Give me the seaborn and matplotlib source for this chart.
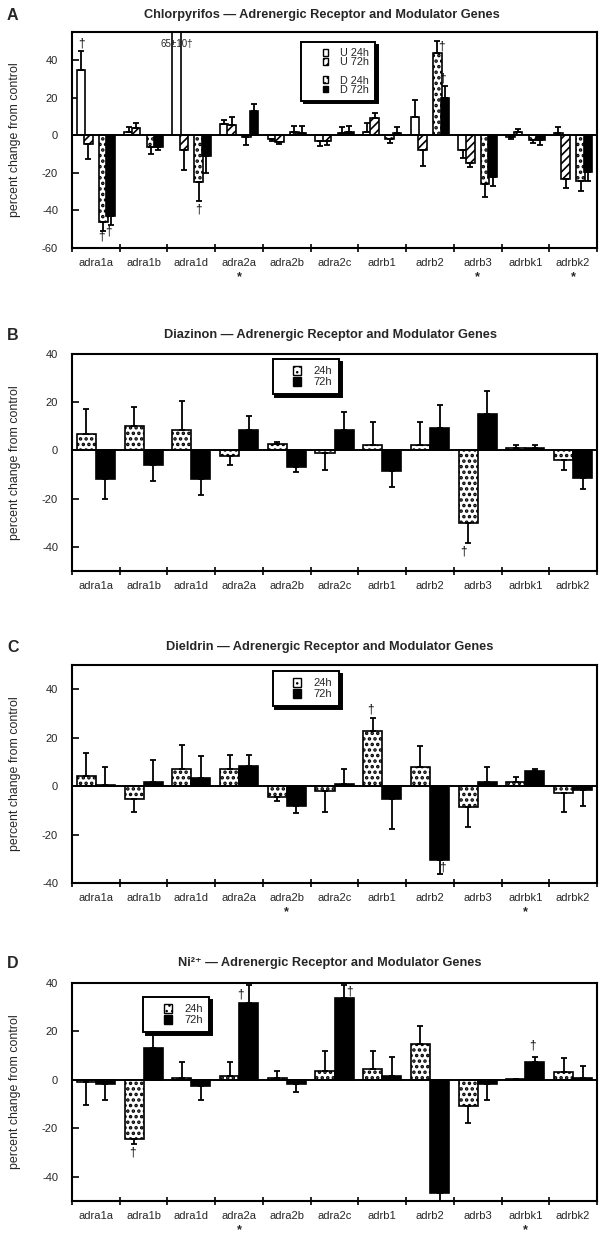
import numpy as np
import pandas as pd
import matplotlib
matplotlib.use("Agg")
import matplotlib.pyplot as plt
import seaborn as sns
from matplotlib.patches import Patch, Rectangle
from matplotlib.legend_handler import HandlerPatch
from matplotlib.transforms import blended_transform_factory

genes = ['adra1a', 'adra1b', 'adra1d', 'adra2a', 'adra2b', 'adra2c',
         'adrb1', 'adrb2', 'adrb3', 'adrbk1', 'adrbk2']

# ---- Panel A: Chlorpyrifos (U = undifferentiated, D = differentiating)
cpf_u24 = [35, 2, 65, 6, -2, -3, 2, 10, -8, -1, 1]
cpf_u24_err = [10, 2.5, 10, 2, 1.2, 2.5, 4.5, 9, 4, 1, 3.5]
cpf_u72 = [-4.5, 4, -8, 5.5, -3.3, -3, 9, -8, -14.5, 1.7, -23]
cpf_u72_err = [8.3, 2.5, 10.4, 4, 1.5, 2.2, 3, 8.3, 2.6, 1.7, 5]
cpf_d24 = [-46, -6, -25, -1, 1.7, 1, -2.2, 44, -25.7, -2.6, -24.5]
cpf_d24_err = [5, 3.8, 9.9, 4.2, 3.4, 3.4, 2.1, 6.2, 6.9, 1.3, 5.2]
cpf_d72 = [-43, -6, -11, 13, 1, 1.7, 1, 20, -22.3, -2.6, -19.4]
cpf_d72_err = [5, 2, 9.2, 3.7, 4.2, 3.4, 3.4, 6, 4.6, 2.5, 4.8]

# ---- Panel B: Diazinon
dzn_24 = [7, 10, 8.5, -2.5, 2.6, -1.1, 2.3, 2.3, -30.1, 1, -3.8]
dzn_24_err = [10.3, 7.9, 11.9, 3.4, 1.1, 7.1, 9.6, 9.6, 8.3, 1.3, 4.4]
dzn_72 = [-12, -6.2, -12, 8.5, -6.8, 8.5, -8.6, 9.2, 15.3, 1, -11.4]
dzn_72_err = [8.3, 6.5, 6.6, 5.7, 2.1, 7.3, 6.4, 9.6, 9.3, 1.3, 4.4]

# ---- Panel C: Dieldrin
dld_24 = [4.2, -5.3, 7.2, 7.2, -4.6, -2.2, 22.9, 7.9, -8.5, 1.7, -2.8]
dld_24_err = [9.5, 5.2, 9.6, 5.8, 1.4, 8.3, 5.1, 8.7, 8.3, 2, 7.7]
dld_72 = [0.3, 1.7, 3.3, 8.2, -8.3, 1, -5.5, -30.5, 1.7, 6.2, -1.5]
dld_72_err = [7.6, 9, 9, 4.8, 2.9, 5.9, 12, 5.7, 6.2, 0.7, 6.8]

# ---- Panel D: Ni2+
ni_24 = [-1, -24.2, 0.7, 1.6, 0.7, 3.8, 4.5, 15, -10.9, 0.3, 3.1]
ni_24_err = [9.5, 2.1, 6.8, 5.9, 3, 8.1, 7.4, 7.3, 7.1, 0, 5.8]
ni_72 = [-1.8, 13, -2.5, 31.7, -1.8, 33.8, 1.6, -46.8, -1.8, 7.5, 0.7]
ni_72_err = [6.7, 7.8, 6, 7.3, 3, 5.2, 8, 6, 6.7, 2.1, 5.2]

# significance marks: (gene, series, y, dx)
daggers_a = [('adra1a', 'U 24h', 49, 0), ('adra1a', 'D 24h', -54, -0.03),
             ('adra1a', 'D 72h', -51, -0.05), ('adra1d', 'D 24h', -39.5, 0),
             ('adrb2', 'D 24h', 47.5, 0.09), ('adrb2', 'D 72h', 30, -0.06)]
daggers_b = [('adrb3', '24h', -42, -0.1)]
daggers_c = [('adrb1', '24h', 31.8, -0.04), ('adrb2', '72h', -33.7, 0.07)]
daggers_d = [('adra1b', '24h', -30.1, -0.04), ('adra2a', '72h', 35.2, -0.17),
             ('adra2c', '72h', 36.3, 0.12), ('adrbk1', '72h', 14.4, -0.06)]
stars_a = ['adra2a', 'adrb3', 'adrbk2']
stars_b = []
stars_c = ['adra2b', 'adrbk1']
stars_d = ['adra2a', 'adrbk1']

titles = ['Chlorpyrifos \u2014 Adrenergic Receptor and Modulator Genes',
          'Diazinon \u2014 Adrenergic Receptor and Modulator Genes',
          'Dieldrin \u2014 Adrenergic Receptor and Modulator Genes',
          'Ni\u00b2\u207a \u2014 Adrenergic Receptor and Modulator Genes']

sns.set_theme(style='ticks')
plt.rcParams['font.family'] = ['Liberation Sans', 'DejaVu Sans']
plt.rcParams['hatch.linewidth'] = 1.6
plt.rcParams['hatch.color'] = 'black'

W, H = 608, 1241
fig = plt.figure(figsize=(W / 100, H / 100), dpi=100)

STY = {
    'U 24h': dict(fc='white', hatch=None, hlw=1.2),
    'U 72h': dict(fc='white', hatch='////', hlw=1.2),
    'gap': dict(fc='white', hatch=None, hlw=1.2),
    'D 24h': dict(fc='white', hatch='...', hlw=1.7),
    'D 72h': dict(fc='black', hatch=None, hlw=1.2),
    '24h': dict(fc='white', hatch='...', hlw=1.7),
    '72h': dict(fc='black', hatch=None, hlw=1.2),
}


def set_hlw(p, lw):
    if hasattr(p, 'set_hatch_linewidth'):
        p.set_hatch_linewidth(lw)
    else:
        p._hatch_linewidth = lw


class RightSwatch(HandlerPatch):
    """Small swatch drawn at the right end of the handle box."""
    def __init__(self, sw, sh, **kw):
        super().__init__(**kw)
        self.sw, self.sh = sw, sh

    def create_artists(self, legend, orig_handle, xdescent, ydescent,
                       width, height, fontsize, trans):
        x0 = -xdescent + width - self.sw
        y0 = -ydescent + (height - self.sh) / 2
        r = Rectangle((x0, y0), self.sw, self.sh,
                      facecolor=orig_handle.get_facecolor(),
                      edgecolor=orig_handle.get_edgecolor(),
                      hatch=orig_handle.get_hatch(), lw=1.0, transform=trans)
        set_hlw(r, 1.0)
        if orig_handle.get_facecolor()[3] == 0:
            r.set_visible(False)
        return [r]


def px_rect(top, bottom, left=72, right=597):
    return [left / W, 1 - bottom / H, (right - left) / W, (bottom - top) / H]


def draw_panel(rect, series, hue_order, ylim, yticks, daggers, stars,
               title, letter, title_y, title_x, legend_anchor, width,
               bar_w, leg_cfg):
    ax = fig.add_axes(rect)
    rows = []
    for name, (vals, errs) in series.items():
        for g, v, e in zip(genes, vals, errs):
            rows.append(dict(gene=g, series=name, value=v, err=e))
    df = pd.DataFrame(rows)
    pal = {k: STY[k]['fc'] for k in hue_order}
    sns.barplot(data=df, x='gene', y='value', hue='series', order=genes,
                hue_order=hue_order, palette=pal, width=width, dodge=True,
                errorbar=None, edgecolor='black', linewidth=1.2,
                legend=False, ax=ax, saturation=1)
    present = [h for h in hue_order if h in series]
    patches = list(ax.patches)
    offs = sorted(set(round(p.get_x() + p.get_width() / 2 -
                            round(p.get_x() + p.get_width() / 2), 3)
                      for p in patches))
    off_map = {o: present[i] for i, o in enumerate(offs)}
    pos = {}
    for p in patches:
        xc = p.get_x() + p.get_width() / 2
        gi = int(round(xc))
        s = off_map[round(xc - gi, 3)]
        st = STY[s]
        p.set_facecolor(st['fc'])
        if st['hatch']:
            p.set_hatch(st['hatch'])
            set_hlw(p, st['hlw'])
        p.set_edgecolor('black')
        if bar_w is not None:
            p.set_width(bar_w)
            p.set_x(xc - bar_w / 2)
        pos[(gi, s)] = xc
        row = df[(df.gene == genes[gi]) & (df.series == s)].iloc[0]
        v, e = row.value, row.err
        lo, hi = (0, e) if v >= 0 else (e, 0)
        ax.errorbar(xc, v, yerr=[[lo], [hi]], fmt='none', ecolor='black',
                    elinewidth=1.3, capsize=2.3, capthick=1.3, zorder=3)
    ax.axhline(0, color='black', lw=1.4, zorder=4)
    for g, s, y, dx in daggers:
        ax.text(pos[(genes.index(g), s)] + dx, y, '\u2020', ha='center',
                va='center', fontsize=8.5, color='black', zorder=5)
    trans = blended_transform_factory(ax.transData, ax.transAxes)
    for g in stars:
        ax.text(genes.index(g), -0.135, '*', transform=trans, ha='center',
                va='center', fontsize=9, fontweight='bold')
    ax.set_xlim(-0.5, len(genes) - 0.5)
    ax.set_ylim(*ylim)
    ax.set_yticks(yticks)
    ax.set_yticklabels([str(t) for t in yticks])
    ax.set_xticks(range(len(genes)))
    ax.set_xticklabels(genes)
    ax.set_xticks(np.arange(-0.5, len(genes)), minor=True)
    ax.tick_params(axis='x', which='major', length=0, pad=7, labelsize=8)
    ax.tick_params(axis='x', which='minor', length=6, width=1.4,
                   direction='inout')
    ax.tick_params(axis='y', which='major', length=5, width=1.4,
                   direction='in', labelsize=8, pad=10)
    ax.set_xlabel('')
    ax.set_ylabel('')
    for sp in ax.spines.values():
        sp.set_visible(True)
        sp.set_linewidth(1.5)
        sp.set_color('black')
    # legend
    handles = []
    for h in hue_order:
        if h == 'gap':
            handles.append(Patch(facecolor='none', edgecolor='none', label=''))
        else:
            st = STY[h]
            handles.append(Patch(facecolor=st['fc'], edgecolor='black',
                                 hatch=st['hatch'], label=h))
    fs, hl, sw, sh, ls, bp = leg_cfg
    leg = ax.legend(handles=handles, loc='upper left',
                    bbox_to_anchor=legend_anchor, frameon=True,
                    fancybox=False, shadow={'color': 'black', 'alpha': 1},
                    edgecolor='black', framealpha=1, fontsize=fs,
                    handlelength=hl, handleheight=0.9, handletextpad=1.1,
                    borderpad=bp, labelspacing=ls, borderaxespad=0,
                    handler_map={Patch: RightSwatch(sw, sh)})
    leg.get_frame().set_linewidth(1.4)
    leg.set_zorder(6)
    fig.text(15 / W, rect[1] + rect[3] / 2, 'percent change from control',
             rotation=90, ha='center', va='center', fontsize=8.9)
    fig.text(title_x / W, 1 - title_y / H, title, ha='center', va='center',
             fontsize=9.2, fontweight='bold')
    fig.text(7 / W, 1 - title_y / H, letter, ha='left', va='center',
             fontsize=11.5, fontweight='bold')
    return ax, pos


# Panel A
axA, posA = draw_panel(
    px_rect(32, 248),
    {'U 24h': (cpf_u24, cpf_u24_err), 'U 72h': (cpf_u72, cpf_u72_err),
     'D 24h': (cpf_d24, cpf_d24_err), 'D 72h': (cpf_d72, cpf_d72_err)},
    ['U 24h', 'U 72h', 'gap', 'D 24h', 'D 72h'], (-60, 55),
    [-60, -40, -20, 0, 20, 40], daggers_a, stars_a, titles[0], 'A', 15,
    322, (0.437, 0.954), 0.78, 0.18, (7.8, 1.9, 3.4, 5.0, -0.1, 0.55))
axA.text(posA[(2, 'U 24h')], 48.5, '65\u00b110\u2020', ha='center',
         va='center', fontsize=7, zorder=5)

LEG2 = (8, 2.0, 5.8, 6.6, 0.05, 0.6)
draw_panel(px_rect(354, 571), {'24h': (dzn_24, dzn_24_err),
                               '72h': (dzn_72, dzn_72_err)},
           ['24h', '72h'], (-50, 40), [-40, -20, 0, 20, 40], daggers_b,
           stars_b, titles[1], 'B', 335, 330, (0.382, 0.977), 0.8, None, LEG2)

draw_panel(px_rect(665, 883), {'24h': (dld_24, dld_24_err),
                               '72h': (dld_72, dld_72_err)},
           ['24h', '72h'], (-40, 50), [-40, -20, 0, 20, 40], daggers_c,
           stars_c, titles[2], 'C', 647, 330, (0.382, 0.972), 0.8, None, LEG2)

draw_panel(px_rect(983, 1201), {'24h': (ni_24, ni_24_err),
                                '72h': (ni_72, ni_72_err)},
           ['24h', '72h'], (-50, 40), [-40, -20, 0, 20, 40], daggers_d,
           stars_d, titles[3], 'D', 963, 330, (0.135, 0.936), 0.8, None, LEG2)

fig.savefig('out.png', dpi=100)
